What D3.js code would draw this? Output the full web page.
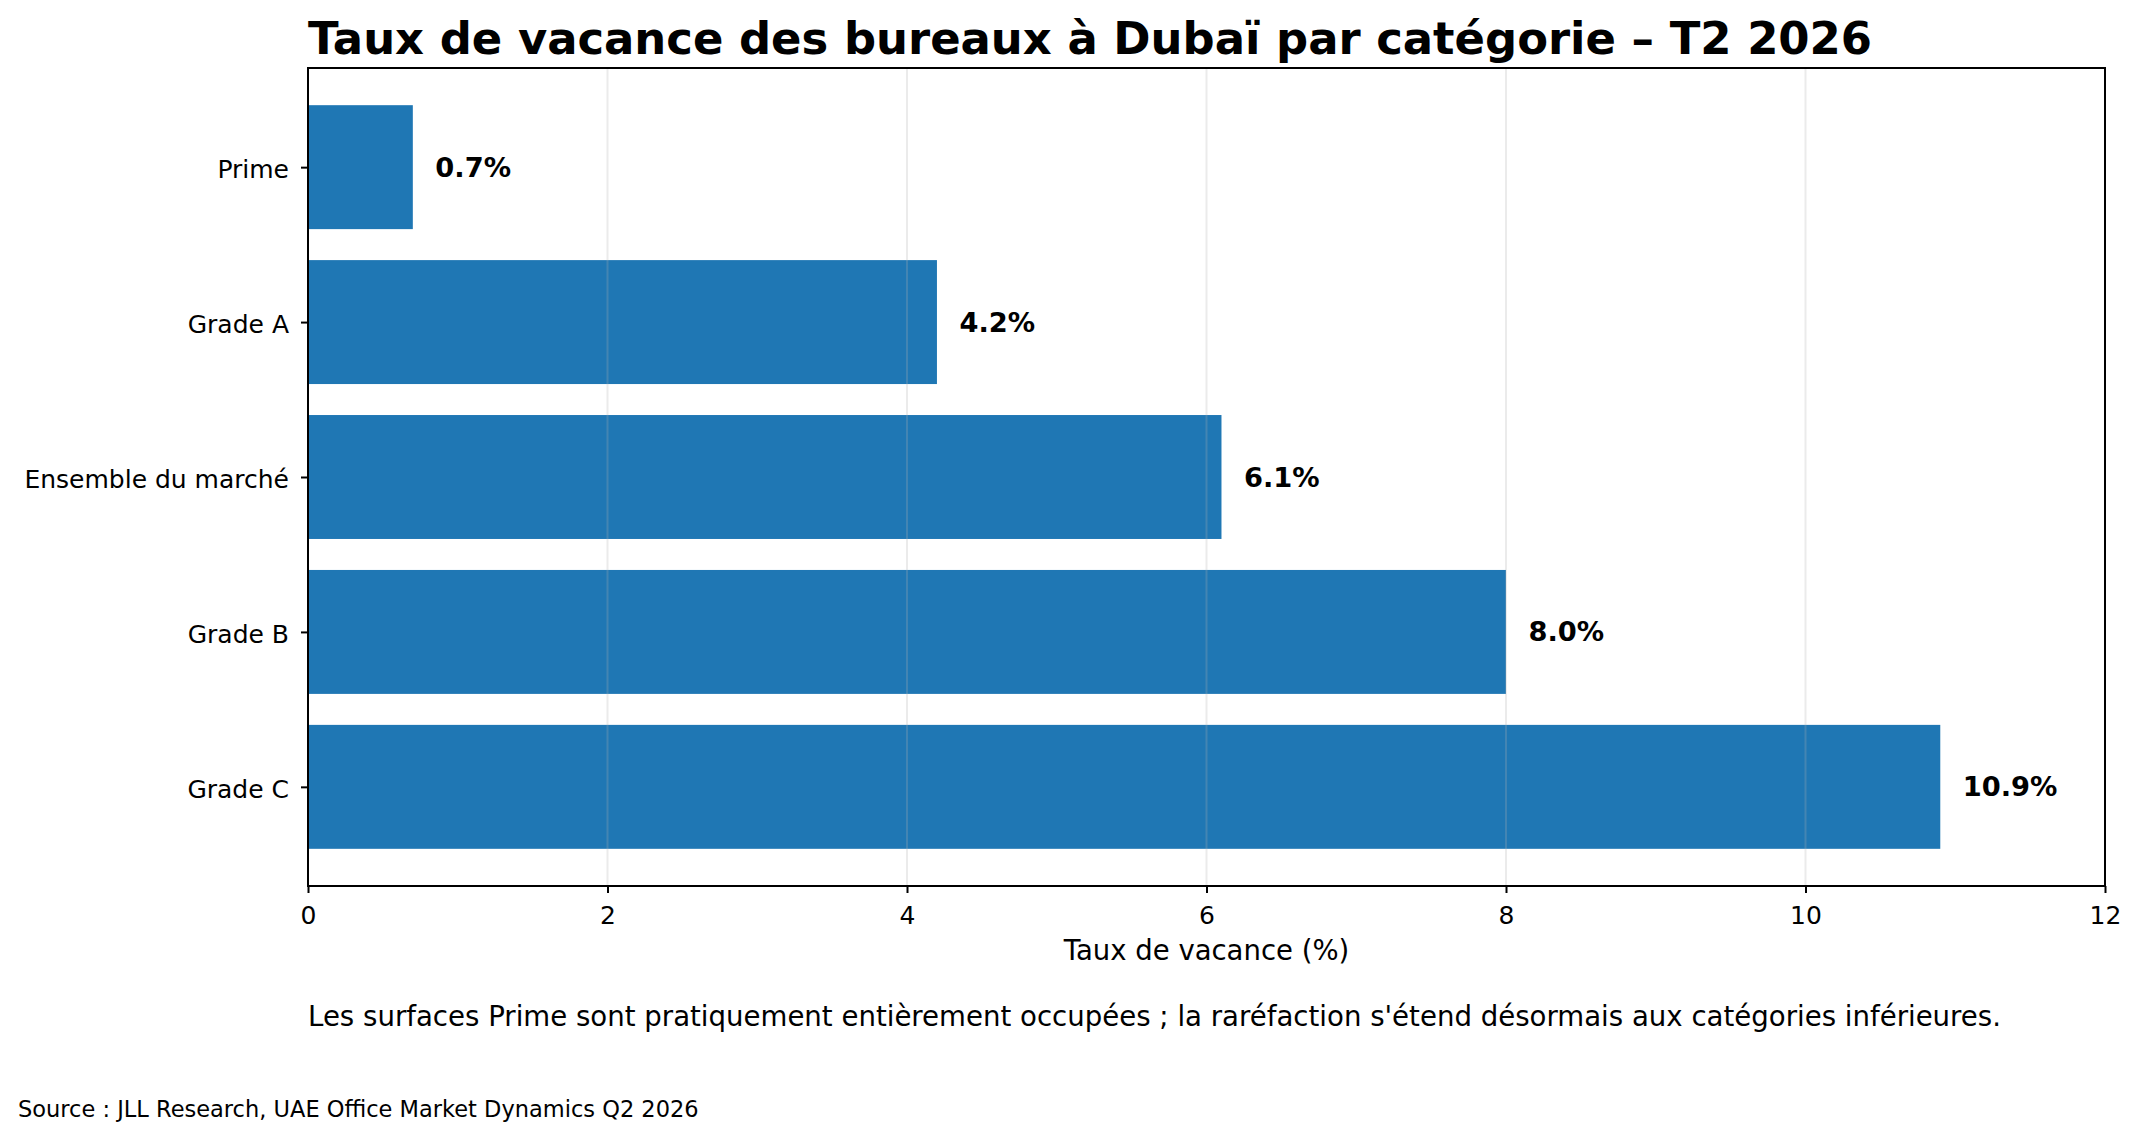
<!DOCTYPE html>
<html>
<head>
<meta charset="utf-8">
<script src="https://cdn.jsdelivr.net/npm/d3@7"></script>
<style>
  body { margin: 0; background: #fff; }
  svg { display: block; font-family: "DejaVu Sans", sans-serif; }
</style>
</head>
<body>
<svg width="2140" height="1140"></svg>
<script>
const categories = ["Prime", "Grade A", "Ensemble du marché", "Grade B", "Grade C"];
const vacancy = [0.7, 4.2, 6.1, 8.0, 10.9];
const xTicks = [0, 2, 4, 6, 8, 10, 12];

const width = 2140, height = 1140;
const plotLeft = 308, plotRight = 2105, plotTop = 68, plotBottom = 886;

const svg = d3.select("svg");
svg.append("rect").attr("width", width).attr("height", height).attr("fill", "#fff");

const x = d3.scaleLinear().domain([0, 12]).range([plotLeft, plotRight]);
// matplotlib-like margins around the bars (0.4 half height + 5%)
const y = d3.scaleLinear().domain([-0.64, 4.64]).range([plotTop, plotBottom]);

const data = categories.map((c, i) => ({cat: c, val: vacancy[i], i: i}));

// bars
svg.append("g")
    .selectAll("rect")
    .data(data)
    .join("rect")
    .attr("x", x(0))
    .attr("y", d => y(d.i - 0.4))
    .attr("width", d => x(d.val) - x(0))
    .attr("height", d => y(d.i + 0.4) - y(d.i - 0.4))
    .attr("fill", "#1f77b4");

// grid on top of bars, faint
svg.append("g")
    .selectAll("line")
    .data(xTicks)
    .join("line")
    .attr("x1", d => x(d)).attr("x2", d => x(d))
    .attr("y1", plotTop).attr("y2", plotBottom)
    .attr("stroke", "#b0b0b0")
    .attr("stroke-opacity", 0.25)
    .attr("stroke-width", 2);

// value labels
svg.append("g")
    .selectAll("text")
    .data(data)
    .join("text")
    .attr("x", d => x(d.val + 0.15))
    .attr("y", d => y(d.i))
    .attr("dominant-baseline", "central")
    .attr("font-size", "27.3px")
    .attr("font-weight", "bold")
    .text(d => d.val.toFixed(1) + "%");

// x axis
const xAxis = svg.append("g")
    .attr("transform", `translate(0, ${plotBottom})`)
    .call(d3.axisBottom(x).tickValues(xTicks).tickFormat(d3.format("d")).tickSize(7).tickPadding(13));
xAxis.select(".domain").remove();
xAxis.selectAll("line").attr("stroke-width", 2);
xAxis.selectAll("text").attr("font-size", "25px").attr("font-family", "DejaVu Sans");

// y axis
const yAxis = svg.append("g")
    .attr("transform", `translate(${plotLeft}, 0)`)
    .call(d3.axisLeft(y).tickValues(data.map(d => d.i)).tickFormat(i => categories[i]).tickSize(7).tickPadding(12));
yAxis.select(".domain").remove();
yAxis.selectAll("line").attr("stroke-width", 2);
yAxis.selectAll("text")
    .attr("font-size", "25px")
    .attr("font-family", "DejaVu Sans")
    .attr("dy", "0.42em");

// frame
svg.append("rect")
    .attr("x", plotLeft).attr("y", plotTop)
    .attr("width", plotRight - plotLeft).attr("height", plotBottom - plotTop)
    .attr("fill", "none")
    .attr("stroke", "#000")
    .attr("stroke-width", 2);

// title
svg.append("text")
    .attr("x", plotLeft)
    .attr("y", 54)
    .attr("font-size", "44.9px")
    .attr("font-weight", "bold")
    .text("Taux de vacance des bureaux à Dubaï par catégorie – T2 2026");

// x label
svg.append("text")
    .attr("x", (plotLeft + plotRight) / 2)
    .attr("y", 960)
    .attr("text-anchor", "middle")
    .attr("font-size", "27.5px")
    .text("Taux de vacance (%)");

// note under chart
svg.append("text")
    .attr("x", plotLeft)
    .attr("y", 1026)
    .attr("font-size", "27.6px")
    .text("Les surfaces Prime sont pratiquement entièrement occupées ; la raréfaction s'étend désormais aux catégories inférieures.");

// source
svg.append("text")
    .attr("x", 18)
    .attr("y", 1117)
    .attr("font-size", "22.5px")
    .text("Source : JLL Research, UAE Office Market Dynamics Q2 2026");
</script>
</body>
</html>
